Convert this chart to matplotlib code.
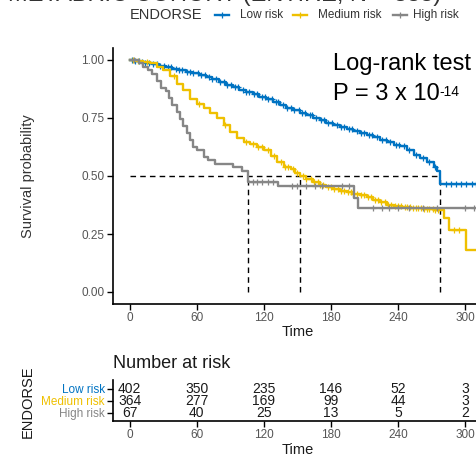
import numpy as np
import matplotlib
matplotlib.use("Agg")
import matplotlib.pyplot as plt
from matplotlib.lines import Line2D

plt.rcParams["font.family"] = ["Liberation Sans", "DejaVu Sans"]

# Kaplan-Meier step curves: (time, survival) after each drop
groups = ["Low risk", "Medium risk", "High risk"]
colors = ["#0073C2", "#EFC000", "#868686"]

low_t = [0, 4, 9, 14, 20, 26, 32, 38, 44, 50, 56, 62, 68, 74, 80, 86, 92, 98, 104,
         110, 116, 122, 128, 134, 140, 146, 152, 158, 164, 170, 176, 182, 188, 194,
         200, 206, 212, 218, 224, 230, 236, 242, 248, 254, 260, 266, 272, 275, 278, 312]
low_s = [1.000, 0.996, 0.992, 0.988, 0.982, 0.975, 0.970, 0.963, 0.957, 0.950, 0.943,
         0.936, 0.927, 0.918, 0.905, 0.893, 0.882, 0.872, 0.862, 0.852, 0.842, 0.830,
         0.818, 0.805, 0.795, 0.784, 0.772, 0.762, 0.752, 0.740, 0.728, 0.718, 0.711,
         0.703, 0.694, 0.685, 0.676, 0.668, 0.656, 0.646, 0.634, 0.628, 0.612, 0.590,
         0.578, 0.560, 0.540, 0.522, 0.465, 0.465]

med_t = [0, 6, 12, 18, 24, 30, 36, 42, 48, 54, 60, 66, 72, 78, 84, 90, 96, 102, 108,
         114, 120, 126, 132, 138, 144, 148, 152, 158, 164, 170, 176, 182, 188, 194, 200,
         206, 212, 218, 224, 230, 236, 244, 252, 262, 272, 281, 286, 301, 312]
med_s = [1.000, 0.996, 0.990, 0.985, 0.970, 0.955, 0.930, 0.895, 0.870, 0.830, 0.810,
         0.795, 0.771, 0.750, 0.720, 0.690, 0.664, 0.648, 0.636, 0.626, 0.610, 0.585,
         0.560, 0.540, 0.530, 0.512, 0.498, 0.488, 0.475, 0.462, 0.452, 0.444, 0.436,
         0.430, 0.424, 0.418, 0.408, 0.396, 0.386, 0.377, 0.371, 0.366, 0.362, 0.359,
         0.354, 0.319, 0.267, 0.180, 0.180]

high_t = [0, 8, 12, 16, 20, 24, 28, 32, 35, 38, 42, 45, 48, 51, 54, 57, 60, 66, 70,
          76, 92, 100, 106, 133, 201, 204, 312]
high_s = [1.000, 0.985, 0.970, 0.955, 0.940, 0.910, 0.880, 0.865, 0.835, 0.806, 0.776,
          0.746, 0.716, 0.687, 0.657, 0.627, 0.612, 0.582, 0.567, 0.552, 0.537, 0.522,
          0.475, 0.455, 0.405, 0.362, 0.362]

# censoring times
low_cens = [2, 5, 8, 11, 14, 17, 21, 24, 27, 31, 34, 37, 41, 44, 47, 51, 54, 57, 61,
            64, 67, 71, 74, 77, 81, 84, 87, 91, 94, 97, 101, 104, 107, 111, 114, 118,
            121, 124, 127, 131, 133, 137, 141, 144, 147, 151, 154, 157, 161, 163, 167,
            171, 174, 177, 181, 185, 189, 192, 196, 199, 203, 207, 210, 214, 217, 221,
            226, 229, 233, 238, 241, 245, 250, 256, 262, 268, 273, 283, 287, 292, 296,
            301, 306, 310]
med_cens = [3, 7, 15, 40, 62, 85, 104, 110, 115, 118, 124, 129, 135, 139, 142, 146,
            150, 155, 158, 162, 165, 168, 170, 173, 177, 180, 183, 186, 189, 192, 195,
            198, 200, 203, 207, 210, 213, 216, 219, 222, 225, 228, 231, 234, 237, 240,
            243, 246, 248, 251, 253, 256, 258, 261, 263, 266, 268, 271, 273, 276, 290,
            295]
high_cens = [4, 110, 114, 118, 124, 128, 145, 150, 158, 166, 172, 190, 196, 218, 226,
             232, 240, 250, 262, 275, 300, 308]

risk_times = [0, 60, 120, 180, 240, 300]
low_risk_n = [402, 350, 235, 146, 52, 3]
med_risk_n = [364, 277, 169, 99, 44, 3]
high_risk_n = [67, 40, 25, 13, 5, 2]

curves = [(low_t, low_s, low_cens), (med_t, med_s, med_cens), (high_t, high_s, high_cens)]
at_risk = [low_risk_n, med_risk_n, high_risk_n]

W, H = 477, 455
fig = plt.figure(figsize=(W / 100, H / 100), dpi=100)

def px_box(x0, y0, x1, y1):
    return [x0 / W, 1 - y1 / H, (x1 - x0) / W, (y1 - y0) / H]

tick_grey = "#555555"
ax_l, ax_r = 113, 481.8

ax = fig.add_axes(px_box(ax_l, 48.4, ax_r, 303.6))
medians = []
for (t, s, cens), col in zip(curves, colors):
    t = np.array(t)
    s = np.array(s)
    ax.step(t, s, where="post", color=col, lw=1.7, zorder=3)
    c = np.array(cens)
    cy = s[np.searchsorted(t, c, side="right") - 1]
    ax.plot(c, cy, ls="none", marker="+", ms=5, mew=0.9, color=col, zorder=3)
    medians.append(t[np.argmax(s <= 0.5)])

# median survival guides
dash = (0, (4, 3))
ax.plot([0, max(medians)], [0.5, 0.5], color="black", lw=1, ls=dash, zorder=2)
for m in medians:
    ax.plot([m, m], [0, 0.5], color="black", lw=1, ls=dash, zorder=2)

ax.set_xlim(-15, 315)
ax.set_ylim(-0.05, 1.05)
ax.set_xticks(risk_times)
ax.set_yticks([0, 0.25, 0.5, 0.75, 1.0])
ax.set_yticklabels(["0.00", "0.25", "0.50", "0.75", "1.00"])
for side in ["top", "right"]:
    ax.spines[side].set_visible(False)
for side in ["left", "bottom"]:
    ax.spines[side].set_linewidth(1.2)
ax.tick_params(length=4, width=1, labelsize=8.5, labelcolor=tick_grey, pad=2)
ax.set_xlabel("Time", fontsize=10.5, color="#1a1a1a", labelpad=1)
ax.set_ylabel("Survival probability", fontsize=10.5, color="#333333")
ax.yaxis.set_label_coords((35 - ax_l) / (ax_r - ax_l), 0.5)

# log-rank annotation
fig.text(333 / W, 1 - 70 / H, "Log-rank test", fontsize=17, ha="left", va="baseline")
ptxt = fig.text(333 / W, 1 - 100 / H, "P = 3 x 10", fontsize=17, ha="left",
                va="baseline")
ax.annotate("-14", xy=(1, 0.93), xycoords=ptxt, fontsize=10, ha="left", va="top",
            annotation_clip=False)

# legend row across the top
fig.text(130 / W, 1 - 15 / H, "ENDORSE", fontsize=10.5, color="#333333",
         ha="left", va="center")
legend_pos = [(215, 240), (293, 318), (393, 413)]
for (kx, tx), name, col in zip(legend_pos, groups, colors):
    y = 1 - 15 / H
    fig.add_artist(Line2D([kx / W, (kx + 14) / W], [y, y], color=col, lw=1.7,
                          transform=fig.transFigure))
    fig.add_artist(Line2D([(kx + 7) / W], [y], color=col, marker="+", ms=5, mew=0.9,
                          transform=fig.transFigure))
    fig.text(tx / W, y, name, fontsize=8.5, color="#333333", ha="left", va="center")

# plot title, mostly above the top edge
fig.text(8 / W, 1 - 1.5 / H, "METABRIC COHORT (ENTIRE, N = 833)", fontsize=17,
         color="#333333", ha="left", va="baseline")

# number at risk table
tab = fig.add_axes(px_box(ax_l, 380, ax_r, 421))
for row, (counts, col) in enumerate(zip(at_risk, colors)):
    yv = 3 - row
    for tt, n in zip(risk_times, counts):
        tab.text(tt, yv, str(n), ha="center", va="center", fontsize=10, color="#1a1a1a")
tab.set_xlim(-15, 315)
tab.set_ylim(0.333, 3.75)
tab.set_xticks(risk_times)
tab.set_yticks([3, 2, 1])
tab.set_yticklabels(groups)
for lbl, col in zip(tab.get_yticklabels(), colors):
    lbl.set_color(col)
for side in ["top", "right"]:
    tab.spines[side].set_visible(False)
for side in ["left", "bottom"]:
    tab.spines[side].set_linewidth(1.2)
tab.tick_params(length=4, width=1, labelsize=8.5, pad=2)
tab.tick_params(axis="x", labelcolor=tick_grey)
tab.set_xlabel("Time", fontsize=10.5, color="#1a1a1a", labelpad=1)
tab.set_ylabel("ENDORSE", fontsize=10.5, color="#1a1a1a")
tab.yaxis.set_label_coords((35 - ax_l) / (ax_r - ax_l), 0.46)
fig.text(ax_l / W, 1 - 363 / H, "Number at risk", fontsize=13, color="#1a1a1a",
         ha="left", va="center")

fig.savefig("out.png", dpi=100)
